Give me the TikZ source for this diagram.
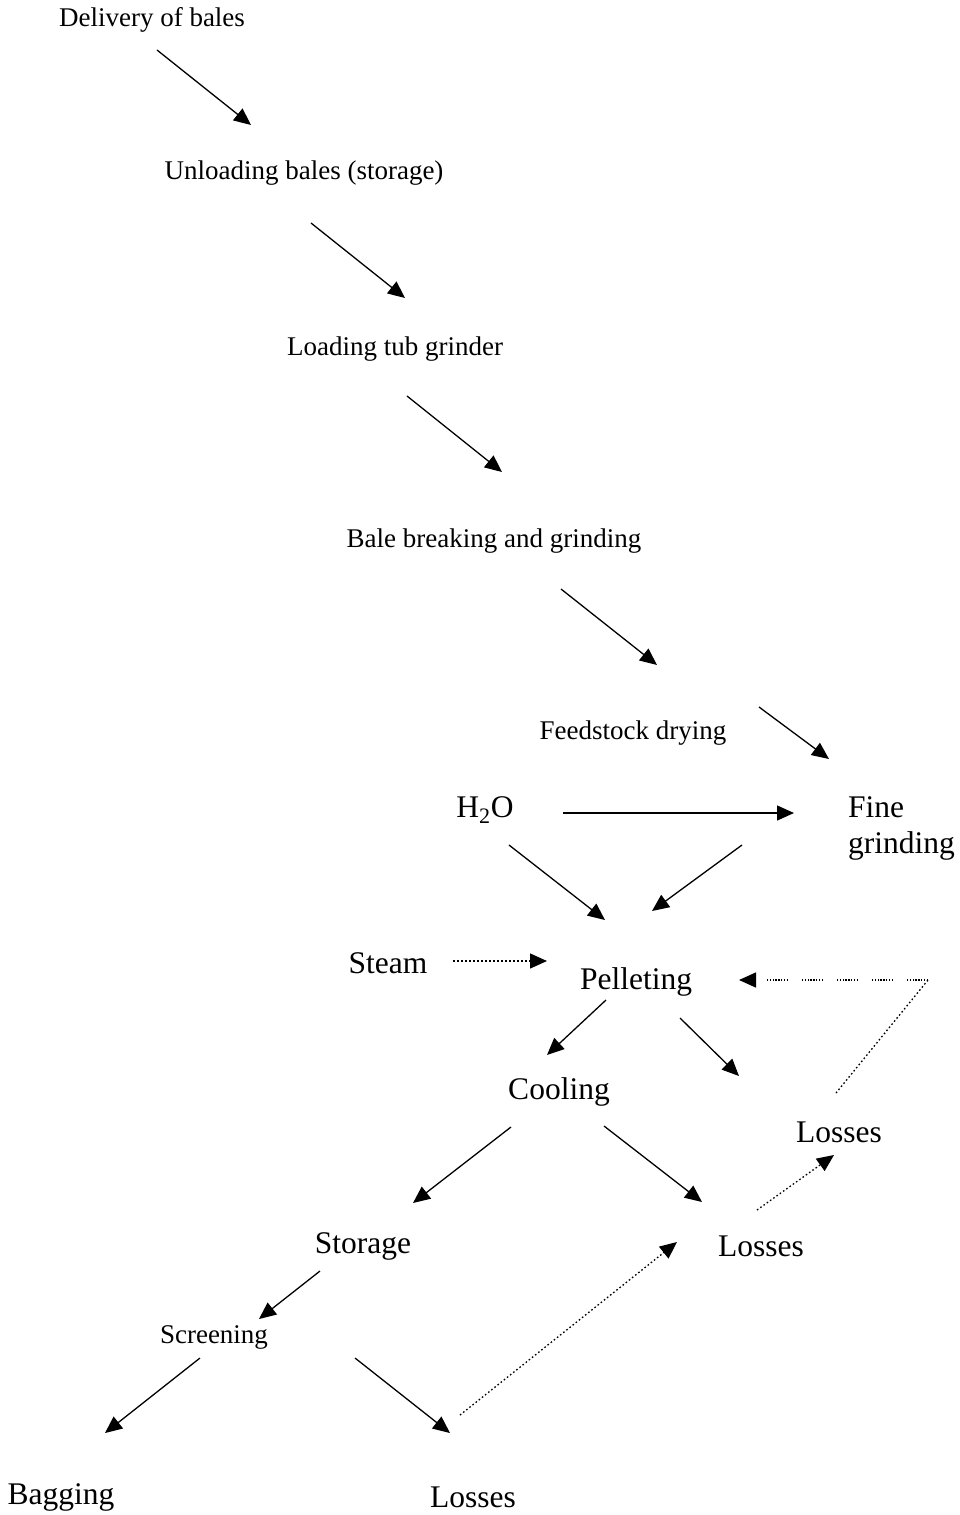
\documentclass[tikz,border=0pt]{standalone}
\usepackage{fontspec}
\setmainfont{Liberation Serif}
\usetikzlibrary{arrows.meta}
\begin{document}
\begin{tikzpicture}[x=1pt,y=-1pt,
  txt/.style={font=\fontsize{27}{32}\selectfont, inner sep=0pt},
  big/.style={font=\fontsize{31.5}{36}\selectfont, inner sep=0pt},
  arr/.style={line width=1.3pt, -{Triangle[length=17pt,width=15pt]}},
  dotarr/.style={arr, dash pattern=on 1.6pt off 2.4pt},
  dashline/.style={line width=1.3pt, dash pattern=on 1.6pt off 2.4pt},
  dotdash/.style={arr, dash pattern=on 1.4pt off 1.4pt on 1.4pt off 1.4pt on 1.4pt off 1.4pt on 1.4pt off 1.4pt on 1.4pt off 1.4pt on 1.4pt off 1.4pt on 1.4pt off 1.4pt on 1.4pt off 14pt}]
\useasboundingbox[fill=white] (0,0) rectangle (959,1515);
% nodes
\node[txt] (deliv) at (152,20) {Delivery of bales};
\node[txt] (unload) at (304,173) {Unloading bales (storage)};
\node[txt] (loadtub) at (395,349) {Loading tub grinder};
\node[txt] (bale) at (494,541) {Bale breaking and grinding};
\node[txt] (dry) at (633,733) {Feedstock drying};
\node[big] (h2o) at (485,810) {H\textsubscript{2}O};
\node[big, align=left, anchor=north west] (fine) at (848,796) {Fine\\grinding};
\node[big] (steam) at (388,963) {Steam};
\node[big] (pell) at (636,982) {Pelleting};
\node[big] (cool) at (559,1092) {Cooling};
\node[big] (loss1) at (839,1132) {Losses};
\node[big] (stor) at (363,1246) {Storage};
\node[big] (loss2) at (761,1246) {Losses};
\node[txt] (screen) at (214,1337) {Screening};
\node[big] (bag) at (61,1497) {Bagging};
\node[big] (loss3) at (473,1497) {Losses};
% connector end points
\coordinate (a1) at (157,50);  \coordinate (b1) at (251,125);
\coordinate (a2) at (311,223); \coordinate (b2) at (405,298);
\coordinate (a3) at (407,396); \coordinate (b3) at (502,472);
\coordinate (a4) at (561,589); \coordinate (b4) at (657,665);
\coordinate (a5) at (759,707); \coordinate (b5) at (829,759);
\coordinate (a6) at (563,813); \coordinate (b6) at (794,813);
\coordinate (a7) at (509,845); \coordinate (b7) at (605,920);
\coordinate (a8) at (742,845); \coordinate (b8) at (652,911);
\coordinate (a9) at (453,961); \coordinate (b9) at (547,961);
\coordinate (corner) at (928,980); \coordinate (b10) at (739,980);
\coordinate (a10) at (836,1093);
\coordinate (a11) at (606,1000); \coordinate (b11) at (547,1055);
\coordinate (a12) at (680,1018); \coordinate (b12) at (739,1076);
\coordinate (a13) at (511,1127); \coordinate (b13) at (413,1203);
\coordinate (a14) at (604,1126); \coordinate (b14) at (702,1202);
\coordinate (a15) at (757,1210); \coordinate (b15) at (834,1155);
\coordinate (a16) at (320,1271); \coordinate (b16) at (259,1319);
\coordinate (a17) at (200,1358); \coordinate (b17) at (105,1433);
\coordinate (a18) at (355,1358); \coordinate (b18) at (450,1433);
\coordinate (a19) at (460,1415); \coordinate (b19) at (677,1242);
% connectors
\draw[arr] (a1) -- (b1);
\draw[arr] (a2) -- (b2);
\draw[arr] (a3) -- (b3);
\draw[arr] (a4) -- (b4);
\draw[arr] (a5) -- (b5);
\draw[arr] (a6) -- (b6);
\draw[arr] (a7) -- (b7);
\draw[arr] (a8) -- (b8);
\draw[dotarr] (a9) -- (b9);
\draw[dashline] (a10) -- (corner);
\draw[dotdash] (corner) -- (b10);
\draw[arr] (a11) -- (b11);
\draw[arr] (a12) -- (b12);
\draw[arr] (a13) -- (b13);
\draw[arr] (a14) -- (b14);
\draw[dotarr] (a15) -- (b15);
\draw[arr] (a16) -- (b16);
\draw[arr] (a17) -- (b17);
\draw[arr] (a18) -- (b18);
\draw[dotarr] (a19) -- (b19);
\end{tikzpicture}
\end{document}
